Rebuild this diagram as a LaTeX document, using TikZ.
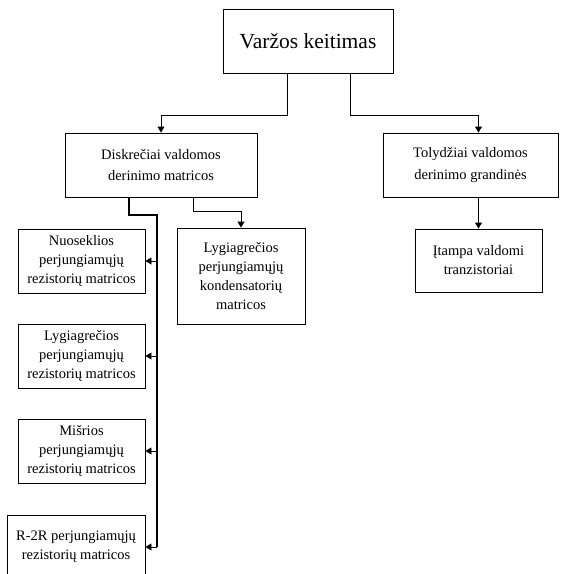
\documentclass[tikz,border=0pt]{standalone}
\usepackage{fontspec}
\setmainfont{Liberation Serif}
\usetikzlibrary{arrows.meta,calc}
\begin{document}
\begin{tikzpicture}[x=1pt,y=-1pt,
  box/.style={draw,line width=0.9pt,align=center,inner sep=0pt,
    font=\fontsize{14.5}{19}\selectfont},
  arr/.style={line width=0.9pt,-{Triangle[length=6pt,width=7pt]}},
  thick line/.style={line width=2pt}]
\clip (0,0) rectangle (569,574);
\fill[white] (0,0) rectangle (569,574);
\node[box,minimum width=170pt,minimum height=64pt,font=\fontsize{21.5}{24}\selectfont] (top) at (308,41) {Varžos keitimas};
\node[box,minimum width=192pt,minimum height=64pt,font=\fontsize{14.5}{21.5}\selectfont] (disk) at (161,165) {Diskrečiai valdomos\\derinimo matricos};
\node[box,minimum width=175pt,minimum height=64pt,font=\fontsize{14.5}{21.5}\selectfont] (toly) at (470.5,165) {Tolydžiai valdomos\\derinimo grandinės};
\node[box,minimum width=127pt,minimum height=63pt] (ita) at (478.5,260.5) {Įtampa valdomi\\tranzistoriai};
\node[box,minimum width=128pt,minimum height=96pt] (kond) at (241,276) {Lygiagrečios\\perjungiamųjų\\kondensatorių\\matricos};
\node[box,minimum width=127pt,minimum height=64pt] (nuo) at (81.5,261) {Nuoseklios\\perjungiamųjų\\rezistorių matricos};
\node[box,minimum width=127pt,minimum height=64pt] (lyg) at (81.5,356) {Lygiagrečios\\perjungiamųjų\\rezistorių matricos};
\node[box,minimum width=127pt,minimum height=64pt] (mis) at (81.5,451) {Mišrios\\perjungiamųjų\\rezistorių matricos};
\node[box,minimum width=138pt,minimum height=64pt] (rr) at (76,547) {R-2R perjungiamųjų\\rezistorių matricos};
% top connectors
\coordinate (tl) at ([xshift=-21pt]top.south);
\coordinate (tr) at ([xshift=42pt]top.south);
\draw[arr] (tl) -- (tl |- 0,115) -| (disk.north);
\draw[arr] (tr) -- (tr |- 0,115) -| (ita.north |- toly.north);
\draw[arr] (ita.north |- toly.south) -- (ita.north);
% disk to kond
\coordinate (dk) at ([xshift=32pt]disk.south);
\draw[arr] (dk) -- (dk |- 0,211) -| (kond.north);
% spine
\coordinate (ds) at ([xshift=-32pt]disk.south);
\coordinate (sp) at (157,215);
\draw[thick line] (ds) -- (ds |- sp) -- (sp) -- (sp |- rr.east);
\draw[arr] (sp |- nuo.east) -- (nuo.east);
\draw[arr] (sp |- lyg.east) -- (lyg.east);
\draw[arr] (sp |- mis.east) -- (mis.east);
\draw[arr] (sp |- rr.east) -- (rr.east);
\end{tikzpicture}
\end{document}
